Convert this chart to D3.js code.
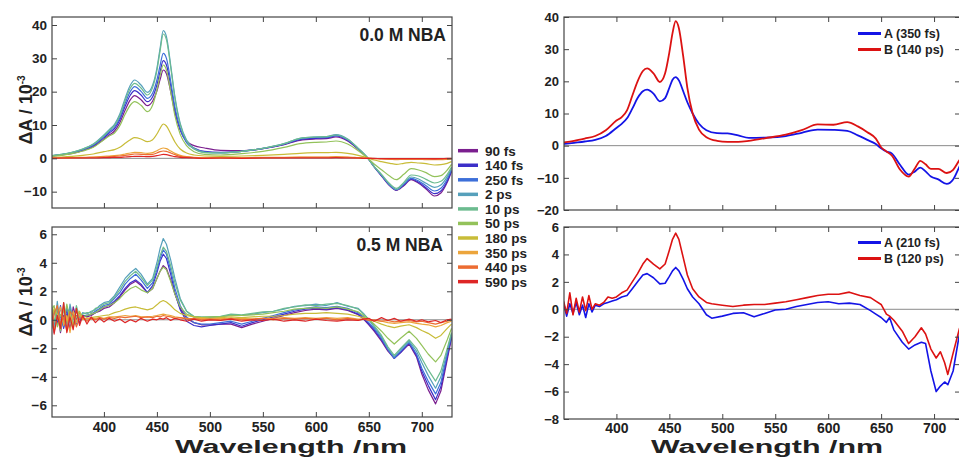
<!DOCTYPE html>
<meta charset="utf-8">

<!-- Load d3.js -->
<script src="https://d3js.org/d3.v7.min.js"></script>

<style>
    body { margin: 0; background: #fff; }
    svg text { font-family: "Liberation Sans", Arial, Helvetica, sans-serif; font-weight: bold; fill: #222; }
</style>

<div id="my_dataviz"></div>

<script>

    // delay labels and colours (left panels)
    const delays = ["90 fs", "140 fs", "250 fs", "2 ps", "10 ps", "50 ps", "180 ps", "350 ps", "440 ps", "590 ps"];
    const delayColors = ["#7b1f8f", "#3c2fc8", "#3d6fd9", "#56a0bb", "#6cbb8f", "#93c25a", "#c8bc38", "#eca53c", "#ec6c32", "#de2626"];

    const xTicks = [400, 450, 500, 550, 600, 650, 700];

    // ---- 0.0 M NBA (top left), dA in 1e-3 ----
    const wlTop = [350, 360, 370, 380, 390, 400, 405, 410, 415, 420, 425, 429, 435, 441, 446, 450, 453, 456, 459, 463, 467, 472, 478, 485, 495,
        510, 530, 550, 570, 585, 600, 610, 619, 630, 640, 645, 650, 655, 662, 670, 676, 683, 690, 697, 704, 712, 718, 724, 728];
    const top90fs = [0.6, 1.0, 1.5, 2.3, 3.5, 5.7, 7.0, 8.2, 10.7, 14.4, 17.6, 18.8, 17.6, 15.8, 17.2, 20.2, 23.6, 26.5, 25.4, 20.0, 13.8, 8.5, 5.2, 3.8, 3.1,
        2.4, 2.3, 2.9, 4.1, 5.4, 5.8, 5.9, 6.4, 5.2, 2.7, 1.3, -0.3, -2.6, -5.3, -8.3, -9.6, -8.2, -6.4, -7.5, -9.2, -11.3, -10.4, -7.2, -4.0];
    const top140fs = [0.7, 1.1, 1.6, 2.5, 3.8, 6.2, 7.6, 8.9, 11.6, 15.6, 19.0, 20.3, 19.0, 17.0, 18.5, 22.0, 26.0, 29.3, 28.0, 21.8, 14.6, 8.6, 4.8, 3.1, 2.1,
        1.8, 2.1, 2.9, 4.2, 5.6, 6.0, 6.1, 6.7, 5.4, 2.8, 1.3, -0.3, -2.5, -5.2, -8.2, -9.5, -8.0, -6.2, -7.2, -8.8, -10.6, -9.8, -6.8, -3.8];
    const top250fs = [0.7, 1.1, 1.7, 2.6, 4.0, 6.5, 8.0, 9.4, 12.2, 16.5, 20.1, 21.5, 20.1, 18.0, 19.6, 23.5, 27.8, 31.5, 30.0, 23.2, 15.4, 8.9, 4.8, 2.9, 1.9,
        1.7, 2.1, 3.0, 4.3, 5.8, 6.3, 6.3, 6.9, 5.6, 2.9, 1.4, -0.3, -2.5, -5.1, -8.1, -9.4, -7.8, -6.0, -6.8, -8.2, -9.8, -9.0, -6.2, -3.4];
    const top2ps = [0.8, 1.2, 1.8, 2.8, 4.3, 7.0, 8.6, 10.2, 13.3, 18.0, 22.0, 23.5, 22.0, 19.8, 22.0, 27.0, 33.0, 38.3, 36.5, 28.0, 18.5, 10.5, 5.5, 3.0, 1.8,
        1.6, 2.1, 3.0, 4.4, 6.0, 6.4, 6.5, 7.1, 5.8, 3.0, 1.5, -0.3, -2.5, -5.0, -8.0, -9.4, -7.6, -5.6, -6.2, -7.5, -8.7, -8.0, -5.5, -3.0];
    const top10ps = [0.8, 1.2, 1.8, 2.8, 4.2, 6.8, 8.4, 9.9, 12.8, 17.3, 21.1, 22.5, 21.1, 19.0, 21.3, 26.3, 32.2, 37.3, 35.6, 27.4, 18.0, 10.1, 5.2, 2.8, 1.7,
        1.6, 2.1, 3.0, 4.4, 6.0, 6.4, 6.5, 7.0, 5.7, 3.0, 1.5, -0.3, -2.4, -4.8, -7.7, -9.0, -7.2, -5.0, -5.3, -6.3, -7.4, -6.9, -4.8, -2.6];
    const top50ps = [0.6, 0.9, 1.4, 2.2, 3.3, 5.6, 6.7, 7.6, 9.8, 13.2, 16.0, 17.0, 15.9, 14.0, 16.0, 20.5, 24.8, 28.0, 26.5, 20.0, 12.8, 7.2, 3.8, 2.0, 1.2,
        1.0, 1.4, 2.1, 3.3, 4.4, 4.8, 4.9, 5.2, 4.3, 2.3, 1.1, -0.2, -1.7, -3.4, -5.4, -6.4, -4.8, -3.1, -3.5, -4.3, -5.5, -5.2, -3.5, -1.8];
    const top180ps = [0.3, 0.4, 0.6, 0.9, 1.3, 2.0, 2.3, 2.6, 3.3, 4.5, 5.6, 6.2, 5.8, 5.0, 5.6, 7.3, 9.0, 10.3, 9.7, 7.4, 4.9, 2.8, 1.6, 1.0, 0.7,
        0.6, 0.7, 0.9, 1.2, 1.5, 1.7, 1.7, 1.8, 1.5, 0.9, 0.5, 0.0, -0.5, -1.0, -1.5, -1.8, -1.5, -1.2, -1.4, -1.6, -2.0, -1.9, -1.5, -1.0];
    const top350ps = [0.1, 0.2, 0.2, 0.3, 0.4, 0.6, 0.7, 0.8, 1.0, 1.3, 1.6, 1.8, 1.7, 1.5, 1.7, 2.3, 2.8, 3.1, 2.9, 2.2, 1.5, 0.9, 0.5, 0.3, 0.2,
        0.2, 0.2, 0.3, 0.3, 0.4, 0.4, 0.4, 0.5, 0.4, 0.2, 0.1, 0.0, -0.1, -0.2, -0.3, -0.4, -0.3, -0.3, -0.3, -0.4, -0.4, -0.4, -0.3, -0.2];
    const top440ps = [0.1, 0.1, 0.2, 0.2, 0.3, 0.4, 0.5, 0.6, 0.7, 0.9, 1.1, 1.3, 1.2, 1.1, 1.2, 1.6, 2.0, 2.2, 2.1, 1.6, 1.1, 0.6, 0.4, 0.2, 0.1,
        0.1, 0.1, 0.2, 0.2, 0.3, 0.3, 0.3, 0.3, 0.3, 0.1, 0.1, 0.0, -0.1, -0.1, -0.2, -0.2, -0.2, -0.2, -0.2, -0.2, -0.3, -0.2, -0.2, -0.1];
    const top590ps = [0.0, 0.1, 0.1, 0.1, 0.1, 0.2, 0.2, 0.3, 0.3, 0.4, 0.5, 0.6, 0.6, 0.5, 0.6, 0.8, 1.0, 1.2, 1.1, 0.8, 0.5, 0.3, 0.2, 0.1, 0.0,
        0.1, 0.0, 0.1, 0.1, 0.1, 0.1, 0.1, 0.2, 0.1, 0.1, 0.0, 0.0, 0.0, -0.1, -0.1, -0.1, -0.1, -0.1, -0.1, -0.1, -0.1, -0.1, 0.0, 0.0];

    // ---- 0.5 M NBA (bottom left) ----
    const wlBot = [350, 353, 356, 359, 362, 365, 368, 371, 374, 377, 380,
        384, 388, 392, 396,
        400, 405, 410, 415, 420, 425, 430, 435,
        441, 446, 450, 453, 456, 459, 463, 467, 472, 478, 485, 492,
        500, 510, 520, 530, 540, 550, 560, 570, 580, 590, 600, 610, 620, 630, 640,
        645, 650, 655, 662, 668, 674, 680, 688, 695, 700, 706, 713, 718, 724, 728];
    const bot90fs = [0.1, -0.4, 0.5, -0.9, 0.3, 0.6, -0.7, 0.9, 0.1, -0.2, 0.3,
        0.2, 0.3, 0.5, 0.6,
        0.8, 0.9, 1.2, 1.6, 2.1, 2.5, 2.7, 2.4,
        1.9, 2.2, 2.9, 3.4, 3.8, 3.6, 2.8, 1.8, 0.8, 0.1, -0.2, -0.35,
        -0.35, -0.3, -0.3, -0.55, -0.3, -0.1, 0.1, 0.3, 0.5, 0.65, 0.75, 0.7, 0.8, 0.65, 0.35,
        0.05, -0.35, -0.8, -1.5, -2.2, -2.7, -2.3, -1.7, -2.6, -3.8, -4.9, -5.9, -5.0, -2.8, -1.3];
    const bot140fs = [-0.5, 0.7, -0.3, 1.0, -0.6, 0.4, 0.8, -0.4, 0.3, 0.0, 0.3,
        0.3, 0.4, 0.5, 0.7,
        0.9, 1.0, 1.3, 1.7, 2.2, 2.6, 2.8, 2.5,
        1.9, 2.4, 3.3, 4.1, 4.6, 4.3, 3.2, 1.9, 0.7, -0.1, -0.4, -0.5,
        -0.4, -0.3, -0.2, -0.45, -0.2, 0.0, 0.2, 0.4, 0.6, 0.75, 0.8, 0.75, 0.85, 0.7, 0.4,
        0.1, -0.3, -0.7, -1.4, -2.1, -2.7, -2.3, -1.6, -2.5, -3.6, -4.6, -5.6, -4.7, -2.6, -1.2];
    const bot250fs = [0.3, -0.9, 0.6, 0.2, -0.5, 0.9, -0.2, 0.4, -0.3, 0.5, 0.2,
        0.3, 0.4, 0.6, 0.8,
        1.0, 1.1, 1.5, 1.9, 2.5, 2.9, 3.2, 2.8,
        2.2, 2.6, 3.5, 4.3, 4.9, 4.6, 3.5, 2.2, 1.0, 0.2, -0.2, -0.3,
        -0.3, -0.2, -0.1, -0.3, -0.1, 0.1, 0.3, 0.5, 0.7, 0.8, 0.9, 0.85, 0.95, 0.8, 0.5,
        0.2, -0.2, -0.6, -1.3, -2.1, -2.7, -2.2, -1.6, -2.4, -3.4, -4.3, -5.2, -4.4, -2.4, -1.1];
    const bot2ps = [0.9, -0.6, 1.3, -0.4, 0.8, -0.7, 1.1, 0.0, 0.6, 0.1, 0.5,
        0.4, 0.6, 0.7, 1.0,
        1.2, 1.3, 1.7, 2.3, 2.9, 3.3, 3.6, 3.2,
        2.5, 2.9, 4.0, 5.0, 5.7, 5.3, 4.2, 2.9, 1.5, 0.6, 0.2, 0.1,
        0.15, 0.2, 0.35, 0.3, 0.4, 0.5, 0.6, 0.75, 0.95, 1.0, 1.1, 1.0, 1.2, 0.95, 0.8,
        0.45, 0.0, -0.5, -1.2, -2.0, -2.6, -2.1, -1.5, -2.2, -3.0, -3.9, -4.8, -4.0, -2.2, -1.0];
    const bot10ps = [1.3, -0.2, 0.9, -0.8, 1.2, -0.3, 0.7, -0.5, 1.0, 0.2, 0.4,
        0.5, 0.5, 0.8, 0.9,
        1.1, 1.2, 1.6, 2.1, 2.7, 3.1, 3.4, 3.0,
        2.4, 2.8, 3.7, 4.5, 5.1, 4.8, 3.8, 2.6, 1.4, 0.6, 0.25, 0.2,
        0.2, 0.25, 0.4, 0.35, 0.45, 0.55, 0.6, 0.8, 0.9, 1.05, 1.0, 1.1, 1.15, 1.0, 0.75,
        0.4, 0.05, -0.4, -1.1, -1.9, -2.5, -2.0, -1.4, -2.0, -2.7, -3.5, -4.3, -3.6, -2.0, -0.9];
    const bot50ps = [0.6, 1.0, -0.5, 0.4, -0.2, 1.1, 0.0, -0.6, 0.7, 0.3, 0.2,
        0.3, 0.4, 0.5, 0.7,
        0.9, 1.0, 1.2, 1.5, 1.9, 2.2, 2.35, 2.1,
        1.9, 2.2, 2.9, 3.4, 3.7, 3.5, 2.7, 1.8, 0.9, 0.4, 0.2, 0.15,
        0.2, 0.2, 0.3, 0.3, 0.35, 0.4, 0.5, 0.6, 0.75, 0.8, 0.85, 0.8, 0.9, 0.75, 0.55,
        0.3, 0.0, -0.3, -0.8, -1.3, -1.7, -1.3, -0.8, -1.3, -1.8, -2.4, -2.95, -2.5, -1.4, -0.6];
    const bot180ps = [-0.3, 0.8, 0.4, -0.7, 0.9, -0.1, 0.5, -0.4, 0.2, 0.6, 0.1,
        0.1, 0.15, 0.2, 0.25,
        0.3, 0.35, 0.5, 0.6, 0.75, 0.85, 0.9, 0.8,
        0.7, 0.8, 1.05, 1.25, 1.35, 1.25, 1.0, 0.7, 0.45, 0.3, 0.2, 0.15,
        0.1, 0.15, 0.2, 0.15, 0.2, 0.25, 0.25, 0.3, 0.4, 0.45, 0.45, 0.5, 0.45, 0.4, 0.25,
        0.15, 0.0, -0.1, -0.3, -0.45, -0.55, -0.45, -0.35, -0.55, -0.75, -0.95, -1.3, -1.1, -0.6, -0.3];
    const bot350ps = [0.5, -0.8, 0.2, 0.9, -0.4, 0.3, -0.9, 0.6, -0.2, 0.4, 0.0,
        0.1, 0.05, 0.1, 0.15,
        0.1, 0.2, 0.2, 0.25, 0.3, 0.25, 0.3, 0.2,
        0.2, 0.25, 0.3, 0.35, 0.4, 0.35, 0.3, 0.2, 0.15, 0.1, 0.05, 0.1,
        0.05, 0.1, 0.05, 0.1, 0.05, 0.1, 0.1, 0.15, 0.1, 0.15, 0.1, 0.15, 0.1, 0.15, 0.05,
        0.05, 0.0, -0.05, -0.1, -0.2, -0.25, -0.2, -0.15, -0.25, -0.3, -0.35, -0.5, -0.4, -0.2, -0.1];
    const bot440ps = [-0.9, 0.4, 1.0, -0.3, 0.2, -0.8, 0.6, 0.3, -0.5, 0.1, 0.2,
        -0.1, 0.1, 0.0, 0.15,
        0.05, 0.15, 0.1, 0.2, 0.15, 0.2, 0.25, 0.15,
        0.2, 0.15, 0.25, 0.2, 0.3, 0.25, 0.2, 0.1, 0.15, 0.05, 0.1, 0.0,
        0.05, 0.0, 0.1, 0.0, 0.05, 0.1, 0.0, 0.1, 0.05, 0.1, 0.05, 0.1, 0.0, 0.1, 0.0,
        0.05, -0.05, 0.0, -0.1, -0.05, -0.15, -0.1, -0.05, -0.15, -0.1, -0.2, -0.3, -0.2, -0.1, 0.0];
    const bot590ps = [1.1, -1.0, 0.3, -0.6, 1.2, -0.9, 0.2, -0.7, 0.8, -0.4, 0.3,
        -0.3, 0.2, -0.2, 0.1,
        -0.15, 0.1, -0.1, 0.05, -0.2, 0.0, -0.15, 0.1,
        -0.1, 0.05, 0.0, 0.1, 0.05, 0.15, -0.05, 0.1, 0.0, -0.1, 0.05, -0.1,
        0.0, -0.05, 0.05, -0.1, 0.0, -0.05, 0.05, -0.1, 0.0, -0.1, 0.05, -0.05, -0.1, 0.0, -0.05,
        0.05, 0.1, -0.1, 0.15, -0.05, 0.1, -0.1, 0.05, -0.1, 0.0, -0.15, -0.05, -0.2, 0.0, 0.05];

    // ---- decay associated spectra, 0.0 M NBA (top right) ----
    const wlDasTop = [350, 360, 370, 380, 390, 400, 405, 410, 415, 420, 425, 429, 435, 441, 446, 450,
        453, 456, 459, 463, 467, 472, 478, 485, 495, 505, 515, 525, 540, 560, 575, 590, 605, 618, 628, 637,
        645, 650, 655, 660, 668, 676, 682, 687, 692, 697, 704, 712, 718, 724, 728];
    const dasTopA = [0.5, 0.9, 1.3, 1.8, 3.0, 5.5, 6.8, 8.5, 11.5, 14.8, 16.9, 17.4, 16.2, 13.8, 14.8, 18.0,
        20.5, 21.3, 20.3, 17.0, 13.5, 10.0, 6.8, 4.8, 3.9, 3.8, 3.2, 2.4, 2.5, 3.0, 4.0, 5.0, 4.9, 4.6, 3.2, 1.8,
        0.5, -0.8, -1.8, -2.4, -6.0, -9.0, -8.0, -6.8, -8.0, -9.6, -10.5, -11.9, -10.5, -6.5, -4.0];
    const dasTopB = [1.0, 1.5, 2.2, 3.0, 4.8, 7.8, 8.9, 11.0, 15.5, 20.0, 23.2, 24.0, 22.5, 19.8, 22.5, 29.0,
        35.0, 38.7, 36.5, 28.0, 18.0, 10.0, 5.0, 2.6, 1.5, 1.2, 1.2, 1.5, 2.3, 3.4, 4.8, 6.6, 6.5, 7.3, 6.0, 4.2,
        2.2, -0.5, -1.8, -3.0, -7.5, -9.6, -7.0, -4.7, -5.8, -7.2, -7.2, -8.5, -7.5, -4.5, -3.0];

    // ---- decay associated spectra, 0.5 M NBA (bottom right) ----
    const wlDasBot = [350, 353, 356, 359, 362, 365, 368, 371, 374, 377, 380,
        384, 388, 392, 396,
        400, 405, 410, 415, 420, 425, 429, 435,
        441, 446, 450, 453, 456, 459, 463, 467, 472, 478, 485, 490,
        500, 510, 520, 530, 540, 550, 560, 570, 580, 590, 600, 610, 620, 630, 640,
        645, 650, 655, 658, 662, 670, 676, 682, 688, 692, 697, 702, 706, 710, 713, 718, 724, 728];
    const dasBotA = [0.5, -0.5, 0.4, -0.3, 0.5, -0.4, 0.3, -0.6, 0.4, -0.2, 0.3,
        0.2, 0.4, 0.5, 0.6,
        0.7, 0.9, 1.0, 1.5, 2.0, 2.5, 2.6, 2.3,
        1.85, 1.9, 2.4, 2.8, 3.05, 2.8, 2.2, 1.5, 0.9, 0.4, -0.4, -0.65,
        -0.5, -0.3, -0.25, -0.55, -0.3, -0.05, 0.0, 0.2, 0.35, 0.5, 0.55, 0.4, 0.45, 0.35, -0.1,
        -0.35, -0.6, -0.95, -0.6, -1.5, -2.4, -2.9, -2.6, -2.4, -2.5, -4.5, -6.0, -5.6, -5.3, -5.5, -4.5, -1.8, -1.0];
    const dasBotB = [0.6, -0.3, 1.2, -0.4, 0.8, -0.2, 0.9, -0.1, 1.0, 0.0, 0.4,
        0.3, 0.5, 0.9, 0.8,
        0.9, 1.2, 1.4, 2.0, 2.6, 3.3, 3.7, 3.3,
        2.95, 3.3, 4.3, 5.1, 5.55, 5.1, 3.8, 2.5, 1.5, 0.9, 0.5, 0.4,
        0.3, 0.2, 0.3, 0.35, 0.35, 0.45, 0.55, 0.7, 0.85, 1.0, 1.1, 1.1, 1.25, 1.0, 0.85,
        0.6, 0.35, -0.35, -0.5, -0.8, -1.6, -2.5, -2.0, -1.35, -1.8, -2.9, -3.55, -3.1, -3.9, -4.75, -3.2, -1.4, -0.8];

    const dasColors = ["#1414e6", "#dc1212"];

    const svg = d3.select("#my_dataviz")
        .append("svg")
        .attr("width", 959)
        .attr("height", 457);

    // one framed panel with inward ticks on all four sides
    function drawPanel(p) {
        const x = d3.scaleLinear().domain(p.xDomain).range([p.left, p.right]);
        const y = d3.scaleLinear().domain(p.yDomain).range([p.bottom, p.top]);
        const g = svg.append("g");

        g.append("clipPath").attr("id", "clip-" + p.name)
            .append("rect")
            .attr("x", p.left).attr("y", p.top)
            .attr("width", p.right - p.left).attr("height", p.bottom - p.top);

        // zero line
        g.append("line")
            .attr("x1", p.left).attr("x2", p.right)
            .attr("y1", y(0)).attr("y2", y(0))
            .attr("stroke", "#8a8a8a").attr("stroke-width", 1);

        const line = d3.line()
            .x(d => x(d[0]))
            .y(d => y(d[1]))
            .curve(p.curve);

        const plot = g.append("g").attr("clip-path", `url(#clip-${p.name})`);
        p.series.forEach(function(s) {
            plot.append("path")
                .datum(p.wl.map((w, i) => [w, s.values[i]]))
                .attr("fill", "none")
                .attr("stroke", s.color)
                .attr("stroke-width", p.lineWidth)
                .attr("stroke-linejoin", "round")
                .attr("d", line);
        });

        const style = function(sel, size) {
            sel.select(".domain").remove();
            sel.selectAll("line").attr("stroke", "#444").attr("stroke-width", 1);
            sel.selectAll("text").attr("font-size", size).attr("font-family", null).attr("fill", "#2a2a2a");
            sel.attr("font-family", null);
        };

        const xb = d3.axisBottom(x).tickValues(xTicks).tickSizeInner(-5).tickSizeOuter(0).tickPadding(p.xPad);
        if (!p.xLabels) xb.tickFormat("");
        g.append("g").attr("transform", `translate(0,${p.bottom})`).call(xb).call(s => style(s, "14px"));

        g.append("g").attr("transform", `translate(0,${p.top})`)
            .call(d3.axisTop(x).tickValues(xTicks).tickSizeInner(-5).tickSizeOuter(0).tickFormat(""))
            .call(s => style(s, "14px"));

        g.append("g").attr("transform", `translate(${p.left},0)`)
            .call(d3.axisLeft(y).tickValues(p.yTicks).tickSizeInner(-5).tickSizeOuter(0).tickPadding(5))
            .call(s => style(s, p.yFont));

        g.append("g").attr("transform", `translate(${p.right},0)`)
            .call(d3.axisRight(y).tickValues(p.yTicks).tickSizeInner(-5).tickSizeOuter(0).tickFormat(""))
            .call(s => style(s, "13px"));

        g.append("rect")
            .attr("x", p.left).attr("y", p.top)
            .attr("width", p.right - p.left).attr("height", p.bottom - p.top)
            .attr("fill", "none").attr("stroke", "#444").attr("stroke-width", 1.2);
        return g;
    }

    const tlSeries = [top90fs, top140fs, top250fs, top2ps, top10ps, top50ps, top180ps, top350ps, top440ps, top590ps]
        .map((v, i) => ({values: v, color: delayColors[i]}));
    const blSeries = [bot90fs, bot140fs, bot250fs, bot2ps, bot10ps, bot50ps, bot180ps, bot350ps, bot440ps, bot590ps]
        .map((v, i) => ({values: v, color: delayColors[i]}));

    drawPanel({name: "tl", left: 52, right: 452, top: 17, bottom: 208, xDomain: [351, 728.5], yDomain: [-14.9, 42.4],
        yTicks: [-10, 0, 10, 20, 30, 40], wl: wlTop, series: tlSeries, curve: d3.curveMonotoneX, lineWidth: 1.2,
        xLabels: false, xPad: 5, yFont: "13.5px"});
    drawPanel({name: "bl", left: 52, right: 452, top: 227, bottom: 417, xDomain: [351, 728.5], yDomain: [-6.82, 6.51],
        yTicks: [-6, -4, -2, 0, 2, 4, 6], wl: wlBot, series: blSeries, curve: d3.curveLinear, lineWidth: 1.2,
        xLabels: true, xPad: 5, yFont: "13.5px"});
    drawPanel({name: "tr", left: 564, right: 960, top: 17, bottom: 210, xDomain: [350.5, 724.5], yDomain: [-20, 40],
        yTicks: [-20, -10, 0, 10, 20, 30, 40], wl: wlDasTop,
        series: [{values: dasTopA, color: dasColors[0]}, {values: dasTopB, color: dasColors[1]}],
        curve: d3.curveMonotoneX, lineWidth: 1.8, xLabels: false, xPad: 6, yFont: "13px"});
    drawPanel({name: "br", left: 564, right: 960, top: 227, bottom: 419, xDomain: [350.5, 724.5], yDomain: [-8, 6],
        yTicks: [-8, -6, -4, -2, 0, 2, 4, 6], wl: wlDasBot,
        series: [{values: dasBotA, color: dasColors[0]}, {values: dasBotB, color: dasColors[1]}],
        curve: d3.curveLinear, lineWidth: 1.6, xLabels: true, xPad: 4, yFont: "13px"});

    // panel titles
    svg.append("text").attr("x", 446).attr("y", 41).attr("text-anchor", "end").style("font-size", "17.5px").text("0.0 M NBA");
    svg.append("text").attr("x", 443).attr("y", 251).attr("text-anchor", "end").style("font-size", "17.5px").text("0.5 M NBA");

    // y axis titles
    [110, 302].forEach(function(cy) {
        const t = svg.append("text")
            .attr("transform", `translate(32,${cy}) rotate(-90)`)
            .attr("text-anchor", "middle")
            .style("font-size", "18px")
            .text("ΔA / 10");
        t.append("tspan").attr("dy", "-7").style("font-size", "10px").text("-3");
    });

    // x axis titles (wide bold face, kept inside the picture)
    [291, 767].forEach(function(cx) {
        svg.append("text")
            .attr("x", cx).attr("y", 453)
            .attr("text-anchor", "middle")
            .attr("textLength", 232)
            .attr("lengthAdjust", "spacingAndGlyphs")
            .style("font-size", "18px")
            .text("Wavelength /nm");
    });

    // delay legend
    const legend = svg.append("g");
    delays.forEach(function(d, i) {
        const ly = 150.7 + i * 14.55;
        legend.append("line").attr("x1", 458).attr("x2", 478).attr("y1", ly).attr("y2", ly)
            .attr("stroke", delayColors[i]).attr("stroke-width", 3.5);
        legend.append("text").attr("x", 485).attr("y", ly + 5).style("font-size", "13.5px").text(d);
    });

    // DAS legends
    const dasLegend = function(labels, y0) {
        labels.forEach(function(l, i) {
            const ly = y0 + i * 16;
            svg.append("line").attr("x1", 858).attr("x2", 881).attr("y1", ly).attr("y2", ly)
                .attr("stroke", dasColors[i]).attr("stroke-width", 3);
            svg.append("text").attr("x", 884).attr("y", ly + 4.5).style("font-size", "12.5px").text(l);
        });
    };
    dasLegend(["A (350 fs)", "B (140 ps)"], 33.5);
    dasLegend(["A (210 fs)", "B (120 ps)"], 242.5);

</script>
